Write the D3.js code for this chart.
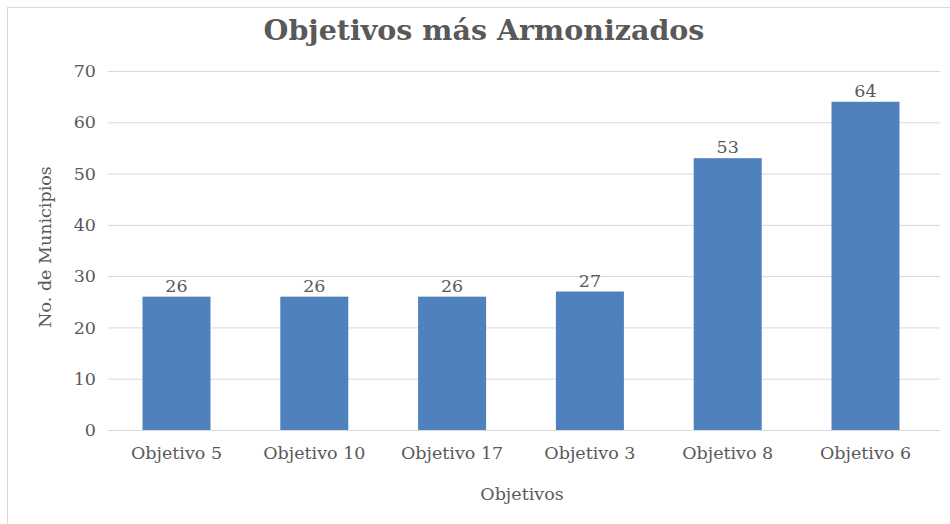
<!DOCTYPE html>
<html><head><meta charset="utf-8">
<script src="https://cdn.jsdelivr.net/npm/d3@7"></script>
<style>body{margin:0;background:#fff}svg text{font-family:"DejaVu Serif",serif;fill:#595959}</style>
</head><body><svg id="c" width="950" height="524"></svg>
<script>
const categories = ["Objetivo 5","Objetivo 10","Objetivo 17","Objetivo 3","Objetivo 8","Objetivo 6"];
const values = [26,26,26,27,53,64];
const yTicks = [0,10,20,30,40,50,60,70];

const svg = d3.select("#c");
svg.append("rect").attr("x",7.5).attr("y",7.5).attr("width",950).attr("height",520)
  .attr("fill","#fff").attr("stroke","#d9d9d9");
const L=108,R=940,T=71,B=430;
const x = d3.scaleBand().domain(categories).range([105,937]).paddingInner(0.5065).paddingOuter(0.272);
const y = d3.scaleLinear().domain([0,70]).range([B,T]);

const gy = svg.append("g").attr("transform",`translate(${L},0)`)
  .call(d3.axisLeft(y).tickValues(yTicks).tickSize(-(R-L)).tickPadding(12));
gy.select(".domain").remove();
gy.selectAll("line").attr("stroke","#d9d9d9");
gy.selectAll("text").attr("font-size",17.5).style("font-family","DejaVu Serif").attr("fill","#595959");

svg.selectAll(".bar").data(values).join("rect").attr("class","bar")
  .attr("x",(d,i)=>x(categories[i])).attr("width",x.bandwidth())
  .attr("y",d=>y(d)).attr("height",d=>B-y(d)).attr("fill","#4F81BD");

svg.selectAll(".lbl").data(values).join("text").attr("class","lbl")
  .attr("x",(d,i)=>x(categories[i])+x.bandwidth()/2).attr("y",d=>y(d)-5)
  .attr("text-anchor","middle").attr("font-size",17.5).text(d=>d);

const gx = svg.append("g").attr("transform",`translate(0,${B})`)
  .call(d3.axisBottom(x).tickSize(0).tickPadding(17));
gx.select(".domain").attr("stroke","#d9d9d9").attr("d",`M${L},0.5H${R}`);
gx.selectAll("text").attr("font-size",17.5).style("font-family","DejaVu Serif").attr("fill","#595959");

svg.append("text").attr("x",484).attr("y",40).attr("text-anchor","middle")
  .attr("font-size",28.5).attr("font-weight","bold").text("Objetivos más Armonizados");
svg.append("text").attr("x",522).attr("y",500).attr("text-anchor","middle")
  .attr("font-size",17.5).text("Objetivos");
svg.append("text").attr("transform","translate(51,247) rotate(-90)").attr("text-anchor","middle")
  .attr("font-size",17.5).text("No. de Municipios");
</script></body></html>
